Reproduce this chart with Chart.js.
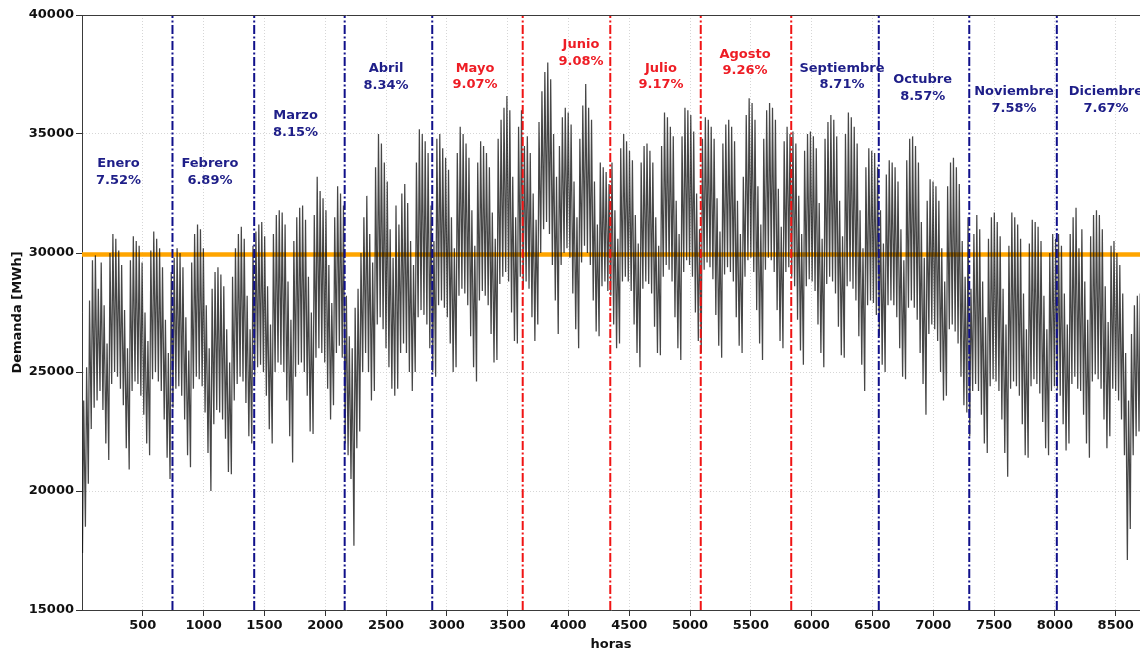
<!DOCTYPE html>
<html lang="es">
<head>
<meta charset="utf-8">
<title>Demanda horaria anual</title>
<script src="https://cdn.jsdelivr.net/npm/chart.js@4.4.1/dist/chart.umd.min.js"></script>
<style>
  html, body { margin: 0; padding: 0; background: #ffffff; }
  #marco { width: 1140px; height: 652px; position: relative; }
</style>
</head>
<body>
<div id="marco"><canvas id="grafico" width="1140" height="652"></canvas></div>
<script>
// Meses y su participación en la energía anual (%)
const meses = ['Enero', 'Febrero', 'Marzo', 'Abril', 'Mayo', 'Junio', 'Julio', 'Agosto',
               'Septiembre', 'Octubre', 'Noviembre', 'Diciembre'];
const participacion = [7.52, 6.89, 8.15, 8.34, 9.07, 9.08, 9.17, 9.26, 8.71, 8.57, 7.58, 7.67];
const mesesVerano = ['Mayo', 'Junio', 'Julio', 'Agosto'];

// Hora del año en que termina cada mes (enero a noviembre)
const limitesMes = [744, 1416, 2160, 2880, 3624, 4344, 5088, 5832, 6552, 7296, 8016];

// Demanda media horaria [MWh]
const promedioHorario = 29940;

// Demanda mínima (madrugada) de cada día [MWh]
const valleDiario = [
  // enero
  17400,18500,20300,22600,23500,23800,24200,23400,22000,21300,24500,25000,24800,24300,23600,21800,
  20900,24200,24600,24500,24000,23200,22000,21500,24700,25000,24600,24200,23000,21400,20500,
  // febrero
  23500,24300,24400,24000,23000,21500,21000,24300,24800,24700,24400,23300,21600,20000,
  22800,23400,23300,23000,22200,20800,20700,23800,24500,24800,24600,23700,22300,22000,
  // marzo
  24800,25200,25300,25000,24000,22600,22000,25000,25400,25300,25000,23800,22300,21200,
  24800,25300,25400,25000,24000,22500,22400,25600,26000,25800,25400,24300,23000,23600,25800,26100,25600,
  // abril
  22000,21500,20500,17700,21800,22500,25000,25800,25000,23800,24200,27000,27300,26800,
  26000,25200,24300,24000,24300,25800,26200,25800,25000,24200,25000,27300,27600,27400,27000,26000,
  // mayo
  25000,24800,27800,28000,27700,27300,26200,25000,25200,28200,28500,28300,27800,26500,
  25200,24600,28000,28400,28200,27800,26600,25400,25500,28700,29000,29200,28800,27500,26300,26200,29000,
  // junio
  28500,28800,28500,27300,26300,27000,30000,31000,31300,30800,29500,28000,26600,29500,
  30000,30200,29800,28300,26800,26000,29600,30300,30000,29500,28000,26700,26500,28600,28800,28400,
  // julio
  28200,27000,26000,26200,28800,29000,28800,28400,27000,25800,25200,28500,28800,28700,
  28300,26900,25800,25700,29000,29500,29300,28800,27300,26000,25500,29200,29700,29500,29000,27500,26300,
  // agosto
  25800,29300,29600,29400,28900,27400,26100,25600,29100,29400,29200,28800,27300,26100,
  25800,29000,29700,29800,29200,27600,26200,25500,29300,29800,29700,29200,27600,26300,26000,29200,29400,
  // septiembre
  29000,28600,27200,25900,25300,28600,28900,28800,28400,27000,25800,25200,28700,29000,
  28800,28300,26900,25700,25600,28600,28800,28500,28000,26500,25300,24200,27800,28000,27900,27400,
  // octubre
  26500,25300,25000,27800,28000,27800,27300,26000,24800,24700,27700,28000,27700,27200,
  25800,24500,23200,26600,27000,26800,26300,25000,23800,24000,26800,27000,26700,26200,24800,23600,23300,
  // noviembre
  22300,24200,24500,24200,23200,22000,21600,24400,24700,24600,24200,23000,21600,20600,
  24300,24600,24400,24000,22800,21500,21400,24400,24700,24500,24100,22900,21800,21500,24200,24400,
  // diciembre
  24300,24000,22800,21700,22000,24500,24800,24300,24200,23200,22000,21400,24600,24900,
  24700,24300,23000,21800,22300,24300,24200,23800,23000,21500,17100,18400,21500,22300,22500,22000,20500
];

// Demanda máxima de cada día [MWh]
const picoDiario = [
  // enero
  23800,25200,28000,29700,29900,28500,29600,27800,26200,30000,30800,30600,30100,29500,27600,26000,
  29700,30700,30500,30300,29600,27500,26300,30100,30900,30600,30200,29400,27200,25800,29200,
  // febrero
  29800,30200,30000,29400,27300,25900,29600,30800,31200,31000,30200,27800,26000,28500,
  29200,29400,29100,28600,26800,25400,29000,30200,30800,31100,30600,28200,26800,30300,
  // marzo
  30900,31200,31300,30700,28600,27000,30800,31600,31800,31700,31200,28800,27200,30500,
  31500,31900,32000,31400,29000,27500,31600,33200,32600,32300,31800,29500,27900,31500,32800,32500,32000,
  // abril
  28200,26500,26000,27700,28500,30000,31500,32400,30800,29600,33600,35000,34600,33800,
  33000,31000,29800,32000,31200,32500,32900,32100,30500,29500,33800,35200,35000,34700,34200,32000,
  // mayo
  30500,34800,35000,34400,34000,33500,31500,30200,34200,35300,35000,34600,34000,31800,
  30300,33800,34700,34500,34200,33600,31700,30600,34800,35600,36100,36600,36000,33200,31500,35300,36000,
  // junio
  34500,34900,34200,32500,31400,35500,36800,37600,38000,37300,35000,33200,34500,35700,
  36100,35900,35400,33000,31500,34800,36200,37100,36100,35600,33000,31200,33800,33600,33400,32900,
  // julio
  33800,31800,30600,34400,35000,34700,34300,33900,31600,30400,33800,34500,34600,34300,
  33800,31500,30300,34500,35900,35700,35300,34900,32200,30800,34900,36100,36000,35800,35100,32500,31000,
  // agosto
  34800,35700,35600,35300,34800,32300,30900,34600,35400,35600,35300,34700,32200,30800,
  33200,35800,36500,36300,35600,32800,31200,34800,36000,36300,36100,35600,32700,31100,34700,35300,35000,
  // septiembre
  35100,34600,32400,30800,34300,35000,35100,34900,34400,32100,30600,34800,35500,35800,
  35600,34900,32200,30700,35000,35900,35700,35300,34600,31800,30200,33600,34400,34300,34200,33600,
  // octubre
  31800,30400,33300,33900,33800,33600,33000,31000,29700,33900,34800,34900,34500,33800,
  31300,29800,32200,33100,33000,32800,32200,30200,28800,32800,33800,34000,33600,32900,30500,29000,31500,
  // noviembre
  28500,30800,31600,31000,28800,27300,30600,31500,31700,31300,30700,28500,27000,30300,
  31700,31500,31200,30600,28300,26800,30400,31400,31300,31100,30500,28200,26800,30000,30800,30600,
  // diciembre
  30800,30300,28300,27000,30800,31500,31900,30200,31000,28800,27200,30700,31600,31800,
  31600,31000,28600,27100,30300,30500,30000,29500,28300,25800,23800,26600,27800,28200,28300,27500,25500
];

// Marcas de los ejes
const ticksHoras = [500, 1000, 1500, 2000, 2500, 3000, 3500, 4000, 4500, 5000, 5500, 6000, 6500, 7000, 7500, 8000, 8500];
const ticksDemanda = [15000, 20000, 25000, 30000, 35000, 40000];

// Ubicación de los rótulos de cada mes (hora, MWh)
const posRotulos = [
  [300, 33790], [1052, 33790], [1756, 35810], [2500, 37800], [3232, 37820], [4103, 38790],
  [4761, 37820], [5452, 38410], [6249, 37820], [6913, 37330], [7664, 36820], [8420, 36820]
];

// Serie horaria: un valle de madrugada y un pico diurno por día
const serieDemanda = [];
valleDiario.forEach((v, d) => {
  serieDemanda.push({ x: d * 24 + 4, y: v });
  serieDemanda.push({ x: d * 24 + 14, y: picoDiario[d] });
});

const FUENTE = '"DejaVu Sans", "Liberation Sans", sans-serif';
const AZUL = '#10108a';
const ROJO = '#f01414';

const esVerano = (i) => mesesVerano.includes(meses[i]);

// Línea divisoria al final de cada mes; roja si cierra un mes de verano
const divisorias = limitesMes.map((h, i) => ({
  label: 'fin de ' + meses[i],
  data: [{ x: h, y: ticksDemanda[0] }, { x: h, y: ticksDemanda[ticksDemanda.length - 1] }],
  borderColor: esVerano(i) ? ROJO : AZUL,
  borderWidth: 2,
  borderDash: [9, 2.5, 2, 2.5],
  pointRadius: 0,
  order: 0
}));

const rotulosMes = {
  id: 'rotulosMes',
  afterDatasetsDraw(chart) {
    const { ctx, chartArea, scales: { x, y } } = chart;
    ctx.save();
    ctx.font = 'bold 13px ' + FUENTE;
    ctx.textAlign = 'center';
    ctx.textBaseline = 'alphabetic';
    meses.forEach((m, i) => {
      const px = x.getPixelForValue(posRotulos[i][0]);
      const py = y.getPixelForValue(posRotulos[i][1]) + 4.7;
      ctx.fillStyle = esVerano(i) ? '#ee1d25' : '#1e1e88';
      ctx.fillText(m, px, py);
      ctx.fillText(participacion[i].toFixed(2) + '%', px, py + 16.8);
    });
    // borde superior del área de trazado
    ctx.strokeStyle = '#3a3a3a';
    ctx.lineWidth = 1;
    ctx.beginPath();
    ctx.moveTo(chartArea.left, Math.round(chartArea.top) + 0.5);
    ctx.lineTo(chartArea.right, Math.round(chartArea.top) + 0.5);
    ctx.stroke();
    ctx.restore();
  }
};

new Chart(document.getElementById('grafico'), {
  type: 'line',
  data: {
    datasets: [
      ...divisorias,
      {
        label: 'Demanda horaria',
        data: serieDemanda,
        borderColor: 'rgba(18,18,18,0.78)',
        borderWidth: 1.25,
        pointRadius: 0,
        tension: 0,
        order: 1
      },
      {
        label: 'Promedio',
        data: [{ x: 0, y: promedioHorario }, { x: 8760, y: promedioHorario }],
        borderColor: '#ffa500',
        borderWidth: 4.5,
        pointRadius: 0,
        order: 2
      }
    ]
  },
  options: {
    responsive: false,
    animation: false,
    events: [],
    layout: { padding: { top: 15, right: 0, bottom: 0, left: 0 } },
    plugins: { legend: { display: false }, tooltip: { enabled: false } },
    scales: {
      x: {
        type: 'linear',
        min: 0,
        max: 8700,
        afterBuildTicks: (s) => { s.ticks = ticksHoras.map(v => ({ value: v })); },
        afterFit: (s) => { s.height = 42; },
        ticks: {
          autoSkip: false,
          maxRotation: 0,
          padding: 2,
          color: '#111',
          font: { family: FUENTE, size: 13, weight: 'bold' },
          callback: (v) => String(v)
        },
        grid: { color: '#cccccc', lineWidth: 0.8, tickLength: 6, tickColor: '#333', tickWidth: 1 },
        border: { display: true, color: '#3a3a3a', width: 1, dash: [1, 2] },
        title: {
          display: true, text: 'horas', color: '#111',
          font: { family: FUENTE, size: 13, weight: 'bold' },
          padding: { top: 0, bottom: 0 }
        }
      },
      y: {
        min: 15000,
        max: 40000,
        afterBuildTicks: (s) => { s.ticks = ticksDemanda.map(v => ({ value: v })); },
        afterFit: (s) => { s.width = 82; },
        ticks: {
          padding: 2,
          color: '#111',
          font: { family: FUENTE, size: 13, weight: 'bold' },
          callback: (v) => String(v)
        },
        grid: { color: '#cccccc', lineWidth: 0.8, tickLength: 6, tickColor: '#333', tickWidth: 1 },
        border: { display: true, color: '#3a3a3a', width: 1, dash: [1, 2] },
        title: {
          display: true, text: 'Demanda [MWh]', color: '#111',
          font: { family: FUENTE, size: 13, weight: 'bold' },
          padding: { top: 10, bottom: 0 }
        }
      }
    }
  },
  plugins: [rotulosMes]
});
</script>
</body>
</html>
